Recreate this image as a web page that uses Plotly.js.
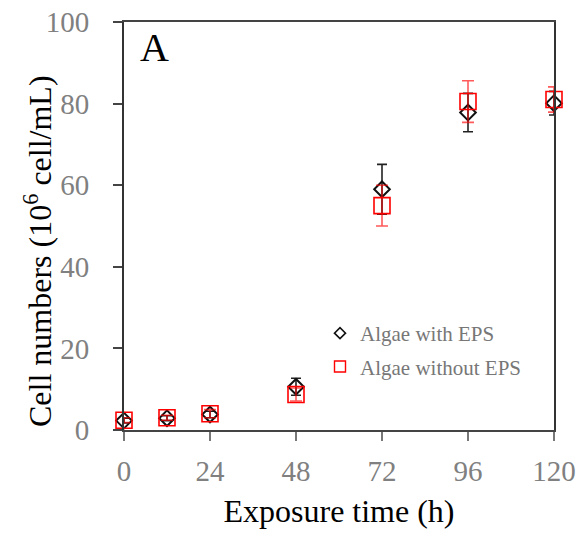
<!DOCTYPE html>
<html>
<head>
<meta charset="utf-8">
<script src="https://cdn.plot.ly/plotly-3.0.1.min.js"></script>
<style>html,body{margin:0;padding:0;background:#fff;}#chart{width:582px;height:541px;}</style>
</head>
<body>
<div id="chart"></div>
<script>
// Data
const hours = [0, 12, 24, 48, 72, 96, 120];
const withEPS = [2.3, 2.9, 3.8, 10.6, 59.0, 77.8, 80.1];
const withEPSErr = [0.6, 0.6, 0.8, 2.1, 6.1, 4.7, 2.9];
const withoutEPS = [2.4, 3.0, 4.0, 8.7, 55.0, 80.5, 81.0];
const withoutEPSErr = [0.6, 0.6, 1.0, 1.6, 5.0, 5.1, 3.1];
const seriesNames = ["Algae with EPS", "Algae without EPS"];
const xTicks = [0, 24, 48, 72, 96, 120];
const yTicks = [0, 20, 40, 60, 80, 100];

const serif = "Liberation Serif";

const traces = [
  {
    x: hours, y: withEPS, type: "scatter", mode: "markers", name: seriesNames[0],
    showlegend: false, cliponaxis: false,
    marker: {symbol: "diamond-open", size: 12, color: "#111", line: {width: 2, color: "#111"}},
    error_y: {type: "data", array: withEPSErr, visible: true, color: "#222", thickness: 1.6, width: 5}
  },
  {
    x: hours, y: withoutEPS, type: "scatter", mode: "markers", name: seriesNames[1],
    showlegend: false, cliponaxis: false,
    marker: {symbol: "square-open", size: 16, color: "#ff0000", line: {width: 1.6, color: "#ff0000"}},
    error_y: {type: "data", array: withoutEPSErr, visible: true, color: "rgba(255,0,0,0.65)", thickness: 1.6, width: 6}
  },
  // legend entries
  {
    x: [null], y: [null], type: "scatter", mode: "markers", name: seriesNames[0],
    legendgroup: "a",
    marker: {symbol: "diamond-open", size: 8.5, color: "#111", line: {width: 1.6, color: "#111"}}
  },
  {
    x: [null], y: [null], type: "scatter", mode: "markers", name: seriesNames[1],
    legendgroup: "b",
    marker: {symbol: "square-open", size: 11, color: "#ff0000", line: {width: 1.4, color: "#ff0000"}}
  }
];

const layout = {
  width: 582, height: 541,
  margin: {l: 124, r: 28, t: 22, b: 111},
  paper_bgcolor: "#fff", plot_bgcolor: "#fff",
  font: {family: serif, color: "#000"},
  showlegend: true,
  legend: {
    x: (320 - 124) / 430, y: (430 - 313) / 408, xanchor: "left", yanchor: "top",
    bgcolor: "rgba(0,0,0,0)", borderwidth: 0,
    font: {family: serif, size: 21, color: "#777"},
    traceorder: "grouped", tracegroupgap: 3, itemsizing: "trace"
  },
  xaxis: {
    range: [0, 120], tickvals: xTicks, ticktext: xTicks.map(String),
    showgrid: false, zeroline: false,
    showline: true, linecolor: "#444", linewidth: 2, mirror: true,
    ticks: "outside", ticklen: 9, tickwidth: 2, tickcolor: "#777",
    tickfont: {family: serif, size: 29, color: "#808080"},
    ticklabelstandoff: 5,
    title: {text: "Exposure time (h)", font: {family: serif, size: 32, color: "#000"}, standoff: 14}
  },
  yaxis: {
    range: [0, 100], tickvals: yTicks, ticktext: yTicks.map(String),
    showgrid: false, zeroline: false,
    showline: true, linecolor: "#333", linewidth: 2, mirror: true,
    ticks: "outside", ticklen: 9, tickwidth: 2, tickcolor: "#444",
    tickfont: {family: serif, size: 29, color: "#808080"},
    ticklabelstandoff: 18
  },
  annotations: [
    {
      text: "A", xref: "paper", yref: "paper",
      x: (138 - 124) / 430, y: (430 - 47) / 408, xanchor: "left", yanchor: "middle",
      showarrow: false, font: {family: serif, size: 40, color: "#000"}
    },
    {
      text: "Cell numbers (10<sup>6</sup> cell/mL)", xref: "paper", yref: "paper",
      x: (38 - 124) / 430, y: (430 - 251) / 408, xanchor: "center", yanchor: "middle",
      textangle: -90, showarrow: false, font: {family: serif, size: 32, color: "#000"}
    }
  ]
};

Plotly.newPlot("chart", traces, layout, {displayModeBar: false, staticPlot: true});
</script>
</body>
</html>
